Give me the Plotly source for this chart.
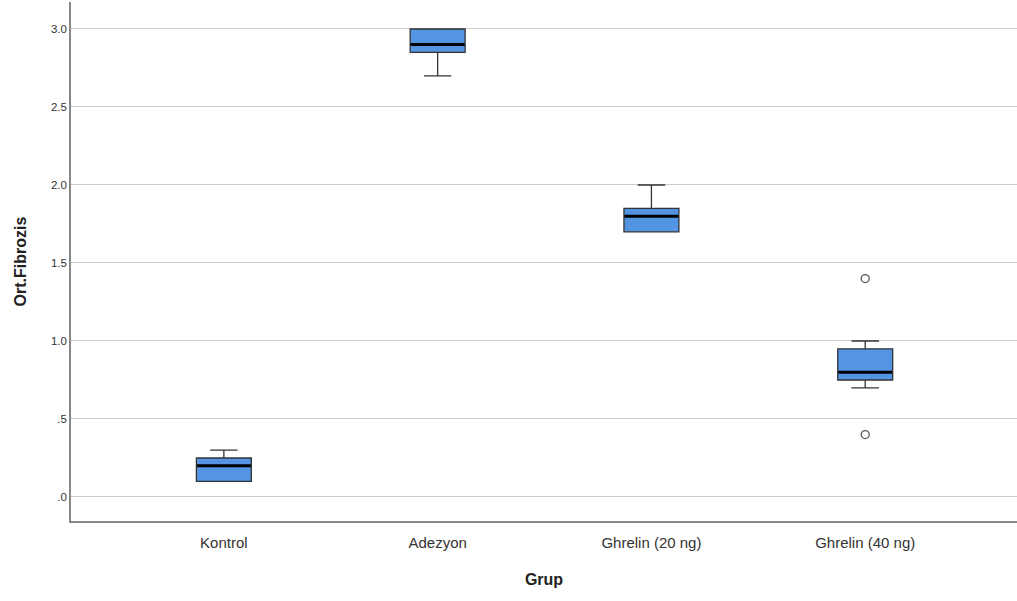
import plotly.graph_objects as go

groups = ["Kontrol", "Adezyon", "Ghrelin (20 ng)", "Ghrelin (40 ng)"]
lower_whisker = [0.10, 2.70, 1.70, 0.70]
q1 = [0.10, 2.85, 1.70, 0.75]
median = [0.20, 2.90, 1.80, 0.80]
q3 = [0.25, 3.00, 1.85, 0.95]
upper_whisker = [0.30, 3.00, 2.00, 1.00]
outlier_groups = ["Ghrelin (40 ng)", "Ghrelin (40 ng)"]
outlier_values = [1.40, 0.40]

y_tickvals = [0.0, 0.5, 1.0, 1.5, 2.0, 2.5, 3.0]
y_ticktext = [".0", ".5", "1.0", "1.5", "2.0", "2.5", "3.0"]

fig = go.Figure()
fig.add_trace(go.Box(
    x=groups, q1=q1, median=median, q3=q3,
    lowerfence=lower_whisker, upperfence=upper_whisker,
    fillcolor="#5495e3", line=dict(color="#333333", width=1.3),
    width=0.257, whiskerwidth=0.5, boxpoints=False, showlegend=False,
    hoverinfo="y"))
fig.add_trace(go.Scatter(
    x=groups, y=median, mode="markers", showlegend=False,
    marker=dict(symbol="line-ew", size=38.5, line=dict(color="#000000", width=3))))
fig.add_trace(go.Scatter(
    x=outlier_groups, y=outlier_values, mode="markers", showlegend=False,
    marker=dict(symbol="circle-open", size=8, color="#555555", line=dict(width=1.3))))

fig.update_layout(
    width=1017, height=601,
    margin=dict(l=71, r=0, t=2, b=80),
    paper_bgcolor="white", plot_bgcolor="white",
    font=dict(family="Liberation Sans, Arial, sans-serif", color="#333333"),
    xaxis=dict(
        type="category", range=[-0.715, 3.71],
        showline=True, linecolor="#888888", linewidth=1.5,
        showgrid=False, ticks="", tickfont=dict(size=15, color="#333333"),
        ticklabelstandoff=7,
        title=dict(text="<b>Grup</b>", font=dict(size=16, color="#222222"), standoff=24)),
    yaxis=dict(
        range=[-0.154, 3.173], tickvals=y_tickvals, ticktext=y_ticktext,
        showline=True, linecolor="#888888", linewidth=1.5,
        showgrid=True, gridcolor="#cccccc", gridwidth=1,
        zeroline=False, ticks="", tickfont=dict(size=11.5, color="#333333"),
        title=dict(text="<b>Ort.Fibrozis</b>", font=dict(size=16, color="#222222"), standoff=20)),
)

fig.write_html("out.html")
